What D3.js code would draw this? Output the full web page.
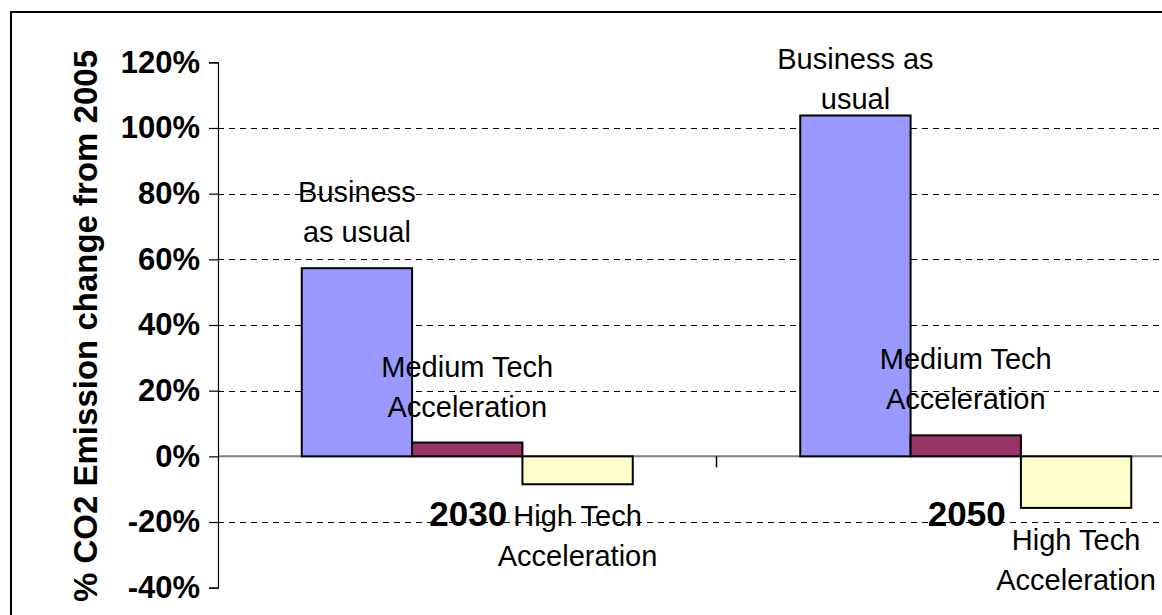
<!DOCTYPE html>
<html>
<head>
<meta charset="utf-8">
<script src="https://cdn.jsdelivr.net/npm/d3@7"></script>
<style>
  body { margin: 0; background: #fff; }
  svg { display: block; font-family: "Liberation Sans", Arial, sans-serif; }
</style>
</head>
<body>
<svg id="chart" width="1162" height="615"></svg>
<script>
    // values
    const years = ['2030', '2050']
    const scenarios = ['Business as usual', 'Medium Tech Acceleration', 'High Tech Acceleration']
    const bau = [0.573, 1.038]
    const mediumTech = [0.042, 0.064]
    const highTech = [-0.085, -0.157]
    const yTicks = [-0.4, -0.2, 0, 0.2, 0.4, 0.6, 0.8, 1.0, 1.2]
    const colors = ['#9999ff', '#993366', '#ffffcc']
    // how each data label wraps, per year
    const labelLines = {
        '2030': [['Business', 'as usual'], ['Medium Tech', 'Acceleration'], ['High Tech', 'Acceleration']],
        '2050': [['Business as', 'usual'], ['Medium Tech', 'Acceleration'], ['High Tech', 'Acceleration']]
    }

    const seriesValues = [bau, mediumTech, highTech]
    const rows = []
    years.forEach((yr, i) => {
        scenarios.forEach((s, j) => {
            rows.push({ year: yr, scenario: s, value: seriesValues[j][i], color: colors[j], lines: labelLines[yr][j] })
        })
    })

    const svg = d3.select('#chart')

    // outer chart border (runs off the right and bottom)
    svg.append('rect')
        .attr('x', 11).attr('y', 12)
        .attr('width', 1300).attr('height', 700)
        .attr('fill', 'none').attr('stroke', '#000').attr('stroke-width', 2)

    const plotLeft = 218, catWidth = 498.5
    const x0 = d3.scaleBand().domain(years).range([plotLeft, plotLeft + catWidth * years.length])
    const x1 = d3.scaleBand().domain(scenarios).range([83.75, 83.75 + 331])
    const y = d3.scaleLinear().domain([-0.4, 1.2]).range([587.7, 62.3])

    // dashed gridlines
    svg.append('g').selectAll('line')
        .data(yTicks.filter(t => t !== 0 && t !== -0.4 && t !== 1.2))
        .enter().append('line')
        .attr('x1', plotLeft).attr('x2', 1200)
        .attr('y1', d => Math.round(y(d)) + 0.5).attr('y2', d => Math.round(y(d)) + 0.5)
        .attr('stroke', '#000').attr('stroke-width', 1)
        .attr('stroke-dasharray', '6,5')

    // zero line
    svg.append('line')
        .attr('x1', plotLeft).attr('x2', 1200)
        .attr('y1', y(0)).attr('y2', y(0))
        .attr('stroke', '#808080').attr('stroke-width', 2)

    // category ticks on the zero line
    svg.append('g').selectAll('line')
        .data(years.slice(1))
        .enter().append('line')
        .attr('x1', d => x0(d)).attr('x2', d => x0(d))
        .attr('y1', y(0)).attr('y2', y(0) + 11)
        .attr('stroke', '#000').attr('stroke-width', 1.5)

    // bars
    svg.append('g').selectAll('rect')
        .data(rows)
        .enter().append('rect')
        .attr('x', d => x0(d.year) + x1(d.scenario))
        .attr('width', x1.bandwidth())
        .attr('y', d => y(Math.max(0, d.value)))
        .attr('height', d => Math.abs(y(d.value) - y(0)))
        .attr('fill', d => d.color)
        .attr('stroke', '#000').attr('stroke-width', 2)

    // y axis
    const pct = d3.format('.0%')
    const yAxis = d3.axisLeft(y)
        .tickValues(yTicks)
        .tickFormat(d => pct(d).replace('\u2212', '-'))
        .tickSize(9)
        .tickPadding(9)
    const ax = svg.append('g')
        .attr('transform', `translate(${plotLeft},0)`)
        .call(yAxis)
    ax.select('.domain').attr('stroke', '#000').attr('stroke-width', 1.2)
    ax.selectAll('.tick line').attr('stroke', '#000').attr('stroke-width', 1.2)
    ax.selectAll('.tick text')
        .attr('font-family', '"Liberation Sans", Arial, sans-serif')
        .attr('font-size', 31).attr('font-weight', 'bold').attr('fill', '#000')

    // y axis title
    svg.append('text')
        .attr('transform', 'translate(97,326) rotate(-90)')
        .attr('text-anchor', 'middle')
        .attr('font-size', 33).attr('font-weight', 'bold')
        .text('% CO2 Emission change from 2005')

    // category labels
    svg.append('g').selectAll('text')
        .data(years)
        .enter().append('text')
        .attr('x', d => x0(d) + x0.bandwidth() / 2 + 1)
        .attr('y', y(0) + 70)
        .attr('text-anchor', 'middle')
        .attr('font-size', 35).attr('font-weight', 'bold')
        .text(d => d)

    // data labels
    const lineH = 40
    const labels = svg.append('g').selectAll('text')
        .data(rows)
        .enter().append('text')
        .attr('text-anchor', 'middle')
        .attr('font-size', 29)
        .attr('x', d => x0(d.year) + x1(d.scenario) + x1.bandwidth() / 2)
        .attr('y', d => {
            if (d.value < 0) return y(d.value) + 42
            const first = y(d.value) - 26 - lineH * (d.lines.length - 1)
            return Math.max(first, y(1.2) + 7)
        })
    labels.selectAll('tspan')
        .data(d => d.lines.map(l => ({ l, d })))
        .enter().append('tspan')
        .attr('x', function () { return this.parentNode.getAttribute('x') })
        .attr('dy', (t, i) => i === 0 ? 0 : lineH)
        .text(t => t.l)
</script>
</body>
</html>
